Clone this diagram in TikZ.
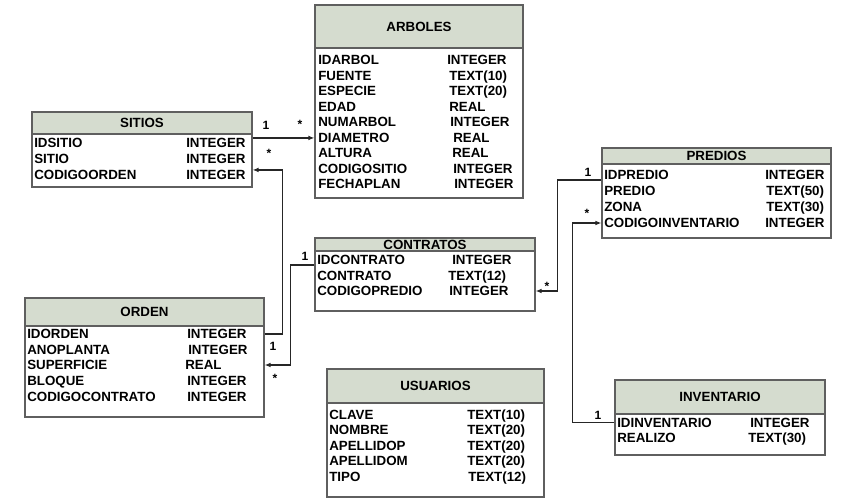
\documentclass[tikz,border=0pt]{standalone}
\usepackage{fontspec}
\setmainfont{Liberation Sans}
\usetikzlibrary{fit,arrows.meta}

\definecolor{cabgris}{RGB}{213,220,207}
\definecolor{bordegris}{RGB}{95,95,95}

\tikzset{
  tabla/.style={draw=bordegris, line width=0.8pt, fill=white, inner sep=0pt},
  cabeza/.style={draw=bordegris, line width=0.8pt, fill=cabgris, inner sep=0pt},
  titulo/.style={inner sep=0pt, text height=7.2pt, text depth=0pt,
    font=\fontsize{10}{12}\selectfont\bfseries},
  campo/.style={anchor=west, inner sep=0pt, text height=7.2pt, text depth=0pt,
    font=\fontsize{10}{12}\selectfont\bfseries},
  enlace/.style={line width=1.1pt, black!85, -{Latex[length=4.5pt,width=3.5pt]}},
  card/.style={inner sep=0pt, font=\fontsize{9}{10}\selectfont\bfseries}
}

\begin{document}
\begin{tikzpicture}[x=0.75pt, y=-0.75pt]
        \useasboundingbox (0,0) rectangle (850,499);

        % tablas
        \node[tabla, fit={(315,5) (523,198)}] (arboles) {};
        \node[cabeza, fit={(315,5) (523,48)}, label={[titulo]center:ARBOLES}] (arboles-h) {};
        \node[tabla, fit={(32,112) (252,187)}] (sitios) {};
        \node[cabeza, fit={(32,112) (252,134)}, label={[titulo]center:SITIOS}] (sitios-h) {};
        \node[tabla, fit={(602,148) (831,238)}] (predios) {};
        \node[cabeza, fit={(602,148) (831,164)}, label={[titulo]center:PREDIOS}] (predios-h) {};
        \node[tabla, fit={(25,298) (264,417)}] (orden) {};
        \node[cabeza, fit={(25,298) (264,326)}, label={[titulo]center:ORDEN}] (orden-h) {};
        \node[tabla, fit={(315,238) (535,311)}] (contratos) {};
        \node[cabeza, fit={(315,238) (535,251)}, label={[titulo]center:CONTRATOS}] (contratos-h) {};
        \node[tabla, fit={(327,369) (544,497)}] (usuarios) {};
        \node[cabeza, fit={(327,369) (544,403)}, label={[titulo]center:USUARIOS}] (usuarios-h) {};
        \node[tabla, fit={(615,380) (825,455)}] (inventario) {};
        \node[cabeza, fit={(615,380) (825,414)}, label={[titulo]center:INVENTARIO}] (inventario-h) {};

        % ARBOLES
        \node[campo] (idarbol) at (318,60) {IDARBOL};
        \node[campo] (idarbol-t) at (447,60) {INTEGER};
        \node[campo] (fuente) at (318,75.5) {FUENTE};
        \node[campo] (fuente-t) at (449,75.5) {TEXT(10)};
        \node[campo] (especie) at (318,91) {ESPECIE};
        \node[campo] (especie-t) at (449,91) {TEXT(20)};
        \node[campo] (edad) at (318,106.5) {EDAD};
        \node[campo] (edad-t) at (449,106.5) {REAL};
        \node[campo] (numarbol) at (318,122) {NUMARBOL};
        \node[campo] (numarbol-t) at (450,122) {INTEGER};
        \node[campo] (diametro) at (318,137.5) {DIAMETRO};
        \node[campo] (diametro-t) at (453,137.5) {REAL};
        \node[campo] (altura) at (318,153) {ALTURA};
        \node[campo] (altura-t) at (452,153) {REAL};
        \node[campo] (codigositio) at (318,168.5) {CODIGOSITIO};
        \node[campo] (codigositio-t) at (453,168.5) {INTEGER};
        \node[campo] (fechaplan) at (318,184) {FECHAPLAN};
        \node[campo] (fechaplan-t) at (454,184) {INTEGER};

        % SITIOS
        \node[campo] (idsitio) at (34,143) {IDSITIO};
        \node[campo] (idsitio-t) at (186,143) {INTEGER};
        \node[campo] (sitio) at (34,159) {SITIO};
        \node[campo] (sitio-t) at (186,159) {INTEGER};
        \node[campo] (codigoorden) at (34,175) {CODIGOORDEN};
        \node[campo] (codigoorden-t) at (186,175) {INTEGER};

        % PREDIOS
        \node[campo] (idpredio) at (604,175) {IDPREDIO};
        \node[campo] (idpredio-t) at (765,175) {INTEGER};
        \node[campo] (predio) at (604,191) {PREDIO};
        \node[campo] (predio-t) at (766,191) {TEXT(50)};
        \node[campo] (zona) at (604,207) {ZONA};
        \node[campo] (zona-t) at (766,207) {TEXT(30)};
        \node[campo] (codigoinventario) at (604,223) {CODIGOINVENTARIO};
        \node[campo] (codigoinventario-t) at (765,223) {INTEGER};

        % ORDEN
        \node[campo] (idorden) at (27,334) {IDORDEN};
        \node[campo] (idorden-t) at (187,334) {INTEGER};
        \node[campo] (anoplanta) at (27,349.5) {ANOPLANTA};
        \node[campo] (anoplanta-t) at (188,349.5) {INTEGER};
        \node[campo] (superficie) at (27,365) {SUPERFICIE};
        \node[campo] (superficie-t) at (185,365) {REAL};
        \node[campo] (bloque) at (27,381) {BLOQUE};
        \node[campo] (bloque-t) at (187,381) {INTEGER};
        \node[campo] (codigocontrato) at (27,396.5) {CODIGOCONTRATO};
        \node[campo] (codigocontrato-t) at (187,396.5) {INTEGER};

        % CONTRATOS
        \node[campo] (idcontrato) at (317,260) {IDCONTRATO};
        \node[campo] (idcontrato-t) at (452,260) {INTEGER};
        \node[campo] (contrato) at (317,275.5) {CONTRATO};
        \node[campo] (contrato-t) at (448,275.5) {TEXT(12)};
        \node[campo] (codigopredio) at (317,291) {CODIGOPREDIO};
        \node[campo] (codigopredio-t) at (449,291) {INTEGER};

        % USUARIOS
        \node[campo] (clave) at (329,414.5) {CLAVE};
        \node[campo] (clave-t) at (467,414.5) {TEXT(10)};
        \node[campo] (nombre) at (329,430) {NOMBRE};
        \node[campo] (nombre-t) at (467,430) {TEXT(20)};
        \node[campo] (apellidop) at (329,445.5) {APELLIDOP};
        \node[campo] (apellidop-t) at (467,445.5) {TEXT(20)};
        \node[campo] (apellidom) at (329,461) {APELLIDOM};
        \node[campo] (apellidom-t) at (467,461) {TEXT(20)};
        \node[campo] (tipo) at (329,477) {TIPO};
        \node[campo] (tipo-t) at (468,477) {TEXT(12)};

        % INVENTARIO
        \node[campo] (idinventario) at (617,422.5) {IDINVENTARIO};
        \node[campo] (idinventario-t) at (750,422.5) {INTEGER};
        \node[campo] (realizo) at (617,438) {REALIZO};
        \node[campo] (realizo-t) at (748,438) {TEXT(30)};

        % relaciones
        \draw[enlace] (sitios.east |- idsitio.north) -- (arboles.west |- idsitio.north);
        \draw[enlace] (orden.east |- idorden) -- ++(18,0) |- (sitios.east |- codigoorden.north);
        \draw[enlace] (contratos.west |- idcontrato.south) -- ++(-24,0) |- (orden.east |- superficie);
        \draw[enlace] (predios.west |- idpredio.south) -- ++(-44,0) |- (contratos.east |- codigopredio);
        \draw[enlace] (inventario.west |- idinventario) -- ++(-42,0) |- (predios.west |- codigoinventario);

        \node[card] (c1) at (266,125) {1};
        \node[card] (c2) at (300,124) {*};
        \node[card] (c3) at (269,153) {*};
        \node[card] (c4) at (305,256) {1};
        \node[card] (c5) at (273,346) {1};
        \node[card] (c6) at (275,378) {*};
        \node[card] (c7) at (588,172) {1};
        \node[card] (c8) at (587,213) {*};
        \node[card] (c9) at (547,286) {*};
        \node[card] (c10) at (598,415) {1};

\end{tikzpicture}
\end{document}
